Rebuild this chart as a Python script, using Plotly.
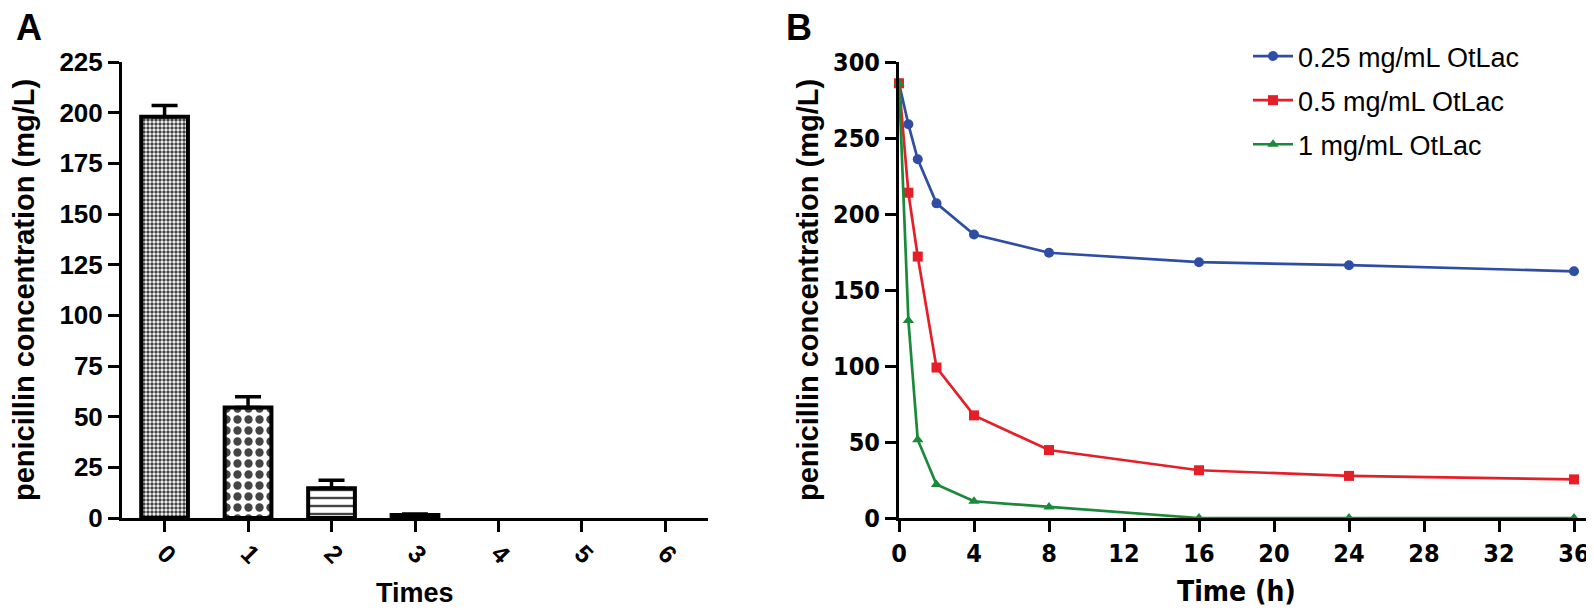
import plotly.graph_objects as go

# ---------------- Panel A data ----------------
times_cat = [0, 1, 2, 3, 4, 5, 6]
times_labels = ["0", "1", "2", "3", "4", "5", "6"]
conc_a = [198.0, 54.5, 14.7, 1.5, 0, 0, 0]
err_a = [5.5, 5.3, 3.9, 0.5, None, None, None]
yticks_a = [0, 25, 50, 75, 100, 125, 150, 175, 200, 225]

# ---------------- Panel B data ----------------
time_h = [0, 0.5, 1, 2, 4, 8, 16, 24, 36]
conc_025 = [286, 259, 236, 207, 186.5, 174.5, 168.3, 166.3, 162.3]
conc_05 = [286, 214, 172, 99, 67.5, 44.7, 31.4, 27.7, 25.4]
conc_1 = [286, 130, 51.5, 22, 11, 7.3, 0, 0, 0]
series_names = ["0.25 mg/mL OtLac", "0.5 mg/mL OtLac", "1 mg/mL OtLac"]
xticks_b = [0, 4, 8, 12, 16, 20, 24, 28, 32, 36]
yticks_b = [0, 50, 100, 150, 200, 250, 300]

W, H = 1594, 616
def px(x):
    return x / W
def py(y):
    return 1 - y / H

BOLD = "Liberation Sans, Arial, sans-serif"
NARROW = "Liberation Sans Narrow, DejaVu Sans Condensed, Arial Narrow, sans-serif"

TOP, BOT = 54, 510
AX0, AX1 = 114, 700
BX0, BX1 = 891, 1581
B_RANGE = 36.8

# only the measured (non-missing) points carry bars with error bars
meas = [i for i, e in enumerate(err_a) if e is not None]
bar_x = [times_cat[i] for i in meas]
bar_y = [conc_a[i] for i in meas]
bar_e = [err_a[i] for i in meas]

fig = go.Figure()

fig.add_trace(go.Bar(
    x=bar_x, y=bar_y, width=0.56,
    marker=dict(
        color=["white", "white", "white", "black"],
        line=dict(color="black", width=4),
        pattern=dict(
            shape=[".", ".", "-", ""],
            size=[4, 11, 8, 8],
            solidity=[0.6, 0.45, 0.3, 0.5],
            fgcolor="black", bgcolor="white", fgopacity=1, fillmode="overlay",
        ),
    ),
    error_y=dict(type="data", symmetric=False, array=bar_e,
                 arrayminus=[0] * len(bar_e), color="black",
                 thickness=3.5, width=13, visible=True),
    showlegend=False, xaxis="x", yaxis="y",
))

colors = ["#2f4ea3", "#e51f28", "#1a8a3a"]
symbols = ["circle", "square", "triangle-up"]
for name, vals, c, s, g in zip(series_names, [conc_025, conc_05, conc_1], colors, symbols, ["a", "b", "c"]):
    fig.add_trace(go.Scatter(
        x=time_h, y=vals, name=name, mode="lines+markers",
        line=dict(color=c, width=2.7),
        marker=dict(color=c, symbol=s, size=10),
        cliponaxis=False, legendgroup=g,
        xaxis="x2", yaxis="y2",
    ))

axis_common = dict(showgrid=False, zeroline=False, showline=True, linewidth=3,
                   linecolor="black", ticks="outside", ticklen=11, tickwidth=3,
                   tickcolor="black", automargin=False)

fig.update_layout(
    width=W, height=H,
    margin=dict(l=0, r=0, t=0, b=0),
    paper_bgcolor="white", plot_bgcolor="white",
    xaxis=dict(domain=[px(AX0), px(AX1)], range=[-0.51, 6.51],
               tickvals=times_cat, ticktext=times_labels, tickangle=45,
               ticklabelstandoff=-3,
               tickfont=dict(family=BOLD, size=25, color="black", weight="bold"),
               anchor="y", **axis_common),
    yaxis=dict(domain=[py(BOT), py(TOP)], range=[0, 225], tickvals=yticks_a,
               tickfont=dict(family=BOLD, size=26, color="black", weight="bold"),
               anchor="x", **axis_common),
    xaxis2=dict(domain=[px(BX0), px(BX1)], range=[0, B_RANGE], tickvals=xticks_b,
                tickfont=dict(family=NARROW, size=25, color="black", weight="bold"),
                anchor="y2", **axis_common),
    yaxis2=dict(domain=[py(BOT), py(TOP)], range=[0, 300], tickvals=yticks_b,
                tickfont=dict(family=NARROW, size=25, color="black", weight="bold"),
                anchor="x2", **axis_common),
    legend=dict(x=px(1240), y=py(24), xanchor="left", yanchor="top",
                font=dict(family=BOLD, size=27, color="black"),
                bgcolor="rgba(0,0,0,0)", tracegroupgap=6, itemwidth=40),
)

ann = [
    dict(text="<b>A</b>", x=px(6), y=1, xanchor="left", yanchor="top", yshift=3,
         font=dict(family=BOLD, size=36, color="black")),
    dict(text="<b>B</b>", x=px(776), y=1, xanchor="left", yanchor="top", yshift=3,
         font=dict(family=BOLD, size=36, color="black")),
    dict(text="<b>penicillin concentration (mg/L)</b>", x=px(16), y=py((TOP + BOT) / 2),
         textangle=-90, xanchor="center", yanchor="middle",
         font=dict(family=BOLD, size=29, color="black")),
    dict(text="<b>penicillin concentration (mg/L)</b>", x=px(800), y=py((TOP + BOT) / 2),
         textangle=-90, xanchor="center", yanchor="middle",
         font=dict(family=BOLD, size=29, color="black")),
    dict(text="<b>Times</b>", x=px((AX0 + AX1) / 2), y=py(585), xanchor="center", yanchor="middle",
         font=dict(family=BOLD, size=27, color="black")),
    dict(text="<b>Time (h)</b>", x=px(BX0 + (BX1 - BX0) * 18 / B_RANGE), y=py(583),
         xanchor="center", yanchor="middle",
         font=dict(family=NARROW, size=28, color="black")),
]
for a in ann:
    a.update(xref="paper", yref="paper", showarrow=False)
fig.update_layout(annotations=ann)

fig.write_html("out.html")
